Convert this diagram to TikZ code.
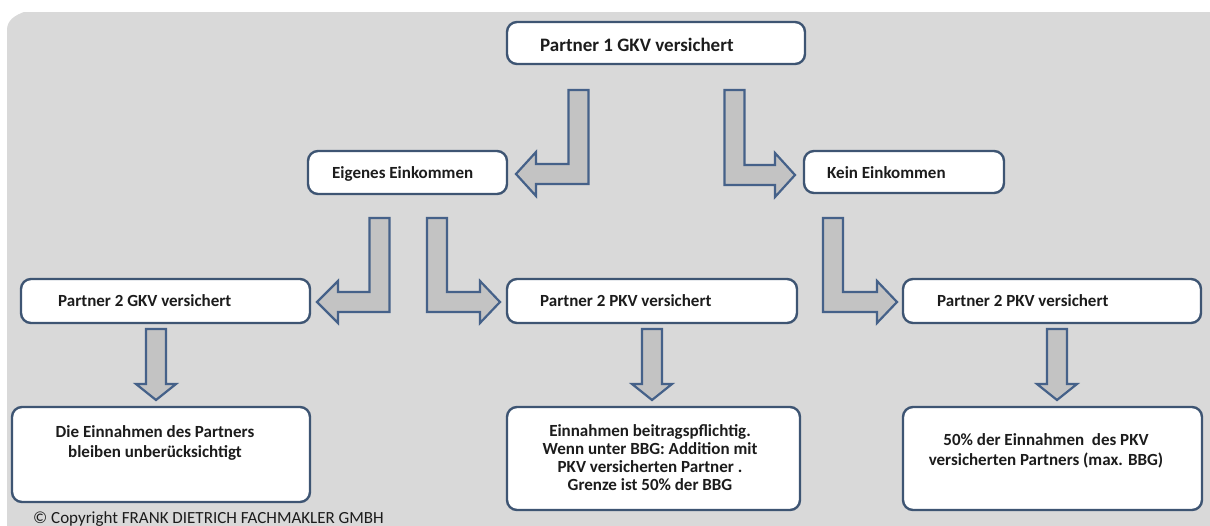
\documentclass[tikz,border=0pt]{standalone}
\usepackage{fontspec}
\setmainfont{Carlito}
\definecolor{bgc}{HTML}{D9D9D9}
\definecolor{boxc}{HTML}{3E5573}
\definecolor{arrc}{HTML}{456189}
\definecolor{arrf}{HTML}{C3C3C3}
\definecolor{txtc}{HTML}{1C1C1C}
\tikzset{
  box/.style={draw=boxc, line width=2.4pt, rounded corners=10pt, fill=white},
  lbl/.style={font=\fontsize{17}{18}\selectfont\bfseries, text=txtc, inner sep=0pt},
  biglbl/.style={font=\fontsize{19}{20}\selectfont\bfseries, text=txtc, inner sep=0pt},
  blockarrow/.style={draw=arrc, fill=arrf, line width=2.2pt, line join=miter},
}
\begin{document}
\begin{tikzpicture}[x=1pt,y=-1pt]
\useasboundingbox (0,0) rectangle (1210,525);
\clip (0,0) rectangle (1210,525);
\fill[white] (0,0) rectangle (1210,525);
\fill[bgc] (7,540) -- (7,30) to[out=90,in=200] (24,12) -- (1210,12) -- (1210,540) -- cycle;

% boxes
\draw[box] (507,22) rectangle (805,64);
\node[biglbl, anchor=base west] (ttop) at (540,51) {Partner 1 GKV versichert};

\draw[box] (308,151) rectangle (507,194);
\node[lbl, anchor=base west] (teig) at (332,178.5) {Eigenes Einkommen};

\draw[box] (804,151) rectangle (1004,193);
\node[lbl, anchor=base west] (tkein) at (827,178.5) {Kein Einkommen};

\draw[box] (21,279) rectangle (310,323);
\node[lbl, anchor=base west] (tgkv) at (58,306.5) {Partner 2 GKV versichert};

\draw[box] (507,279) rectangle (797,323);
\node[lbl, anchor=base west] (tpkvm) at (540,306.5) {Partner 2 PKV versichert};

\draw[box] (903,279) rectangle (1201,323);
\node[lbl, anchor=base west] (tpkvr) at (937,306.5) {Partner 2 PKV versichert};

\draw[box] (12,407) rectangle (310,502);
\node[lbl, anchor=base] (tl1) at (155,437.5) {Die Einnahmen des Partners};
\node[lbl, anchor=base] (tl2) at (155,457.5) {bleiben unberücksichtigt};

\draw[box] (507,407) rectangle (800,510);
\node[lbl, anchor=base] (tm1) at (650,436.5) {Einnahmen beitragspflichtig.};
\node[lbl, anchor=base] (tm2) at (650,454.5) {Wenn unter BBG: Addition mit};
\node[lbl, anchor=base] (tm3) at (650,472.5) {PKV versicherten Partner .};
\node[lbl, anchor=base] (tm4) at (650,490.5) {Grenze ist 50\% der BBG};

\draw[box] (903,407) rectangle (1202,510);
\node[lbl, anchor=base] (tr1) at (1046,445.5) {50\% der Einnahmen\ \ des PKV};
\node[lbl, anchor=base] (tr2) at (1046,465.5) {versicherten Partners (max. BBG)};

% L-shaped block arrows
% top -> Eigenes (down, then left)
\draw[blockarrow] (568.5,90) -- (588.5,90) -- (588.5,184) -- (536,184) -- (536,196)
  -- (516,174) -- (536,152) -- (536,164) -- (568.5,164) -- cycle;
% top -> Kein (down, then right)
\draw[blockarrow] (744.5,90) -- (724.5,90) -- (724.5,185) -- (775,185) -- (775,197)
  -- (795,175) -- (775,153) -- (775,165) -- (744.5,165) -- cycle;
% Eigenes -> Partner 2 GKV
\draw[blockarrow] (369.5,218) -- (389.5,218) -- (389.5,312) -- (338,312) -- (338,323)
  -- (317,302) -- (338,281) -- (338,292) -- (369.5,292) -- cycle;
% Eigenes -> Partner 2 PKV (mid)
\draw[blockarrow] (447,218) -- (427,218) -- (427,312) -- (480,312) -- (480,323)
  -- (500,302) -- (480,281) -- (480,292) -- (447,292) -- cycle;
% Kein -> Partner 2 PKV (right)
\draw[blockarrow] (843,218) -- (823,218) -- (823,312) -- (877,312) -- (877,323)
  -- (897,302) -- (877,281) -- (877,292) -- (843,292) -- cycle;

% down arrows
\draw[blockarrow] (146,329) -- (166,329) -- (166,384) -- (176,384) -- (156,400)
  -- (136,384) -- (146,384) -- cycle;
\draw[blockarrow] (642,329) -- (662,329) -- (662,384) -- (672,384) -- (652,400)
  -- (632,384) -- (642,384) -- cycle;
\draw[blockarrow] (1047,329) -- (1067,329) -- (1067,384) -- (1077,384) -- (1057,400)
  -- (1037,384) -- (1047,384) -- cycle;

% copyright
\node[font=\fontsize{17}{18}\selectfont, text=txtc, inner sep=0pt, anchor=base west] (copy) at (33,523) {© Copyright FRANK DIETRICH FACHMAKLER GMBH};
\end{tikzpicture}
\end{document}
